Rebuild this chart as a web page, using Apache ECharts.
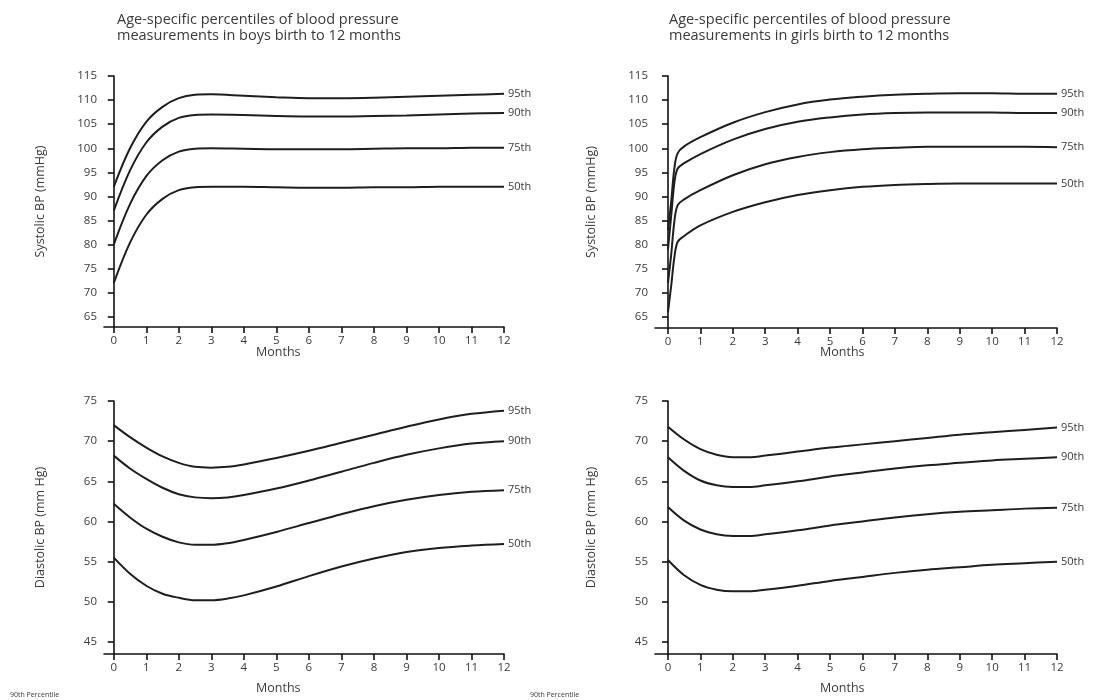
<!DOCTYPE html>
<html>
<head>
<meta charset="utf-8">
<script src="https://cdn.jsdelivr.net/npm/echarts@6/dist/echarts.min.js"></script>
<style>
  html, body { margin: 0; padding: 0; background: #fff; }
  #chart { width: 1099px; height: 700px; }
</style>
</head>
<body>
<div id="chart"></div>
<script>
// percentile names
const percentiles = ["95th", "90th", "75th", "50th"];
const monthTicks = [0, 1, 2, 3, 4, 5, 6, 7, 8, 9, 10, 11, 12];
const sysTicks = [65, 70, 75, 80, 85, 90, 95, 100, 105, 110, 115];
const diaTicks = [45, 50, 55, 60, 65, 70, 75];

// boys systolic
const boysSysMonths = [0, 0.5, 1, 1.5, 2, 2.5, 3, 4, 5, 6, 7, 8, 9, 10, 11, 12];
const boysSys95 = [92, 100, 105.5, 108.6, 110.4, 111.1, 111.2, 110.9, 110.6, 110.4, 110.4, 110.5, 110.7, 110.9, 111.1, 111.3];
const boysSys90 = [87, 95.4, 101.2, 104.5, 106.3, 106.9, 107, 106.9, 106.7, 106.6, 106.6, 106.7, 106.8, 107, 107.2, 107.3];
const boysSys75 = [80, 88.4, 94.2, 97.5, 99.3, 99.9, 100, 99.9, 99.8, 99.8, 99.8, 99.9, 100, 100, 100.1, 100.1];
const boysSys50 = [72, 80.4, 86.2, 89.5, 91.3, 91.9, 92, 92, 91.9, 91.8, 91.8, 91.9, 91.9, 92, 92, 92];

// girls systolic
const girlsSysMonths = [0, 0.1, 0.2, 0.3, 0.5, 1, 2, 3, 4, 5, 6, 7, 8, 9, 10, 11, 12];
const girlsSys95 = [83, 89, 96, 99, 100.4, 102.3, 105.3, 107.5, 109.1, 110.1, 110.7, 111.1, 111.3, 111.4, 111.4, 111.3, 111.3];
const girlsSys90 = [79, 86, 93, 95.8, 96.9, 98.8, 101.8, 104, 105.5, 106.4, 107, 107.3, 107.4, 107.4, 107.4, 107.3, 107.3];
const girlsSys75 = [72, 78, 85, 88.2, 89.4, 91.3, 94.4, 96.7, 98.2, 99.2, 99.8, 100.1, 100.3, 100.3, 100.3, 100.3, 100.2];
const girlsSys50 = [66, 71.5, 77.5, 80.6, 81.8, 84, 86.8, 88.8, 90.3, 91.3, 92, 92.4, 92.6, 92.7, 92.7, 92.7, 92.7];

// boys diastolic
const boysDiaMonths = [0, 0.5, 1, 1.5, 2, 2.5, 3, 3.5, 4, 5, 6, 7, 8, 9, 10, 11, 12];
const boysDia95 = [72, 70.5, 69.2, 68.1, 67.3, 66.8, 66.7, 66.8, 67.1, 67.9, 68.8, 69.8, 70.8, 71.8, 72.7, 73.4, 73.8];
const boysDia90 = [68.2, 66.6, 65.3, 64.2, 63.4, 63, 62.9, 63, 63.3, 64.1, 65.1, 66.2, 67.3, 68.3, 69.1, 69.7, 70];
const boysDia75 = [62.2, 60.5, 59.1, 58.1, 57.4, 57.1, 57.1, 57.3, 57.7, 58.7, 59.8, 60.9, 61.9, 62.7, 63.3, 63.7, 63.9];
const boysDia50 = [55.5, 53.5, 52, 51, 50.5, 50.2, 50.2, 50.4, 50.8, 51.9, 53.2, 54.4, 55.4, 56.2, 56.7, 57, 57.2];

// girls diastolic
const girlsDiaMonths = [0, 0.5, 1, 1.5, 2, 2.5, 3, 4, 5, 6, 7, 8, 9, 10, 11, 12];
const girlsDia95 = [71.8, 70.2, 69, 68.3, 68, 68, 68.2, 68.7, 69.2, 69.6, 70, 70.4, 70.8, 71.1, 71.4, 71.7];
const girlsDia90 = [68, 66.3, 65.1, 64.5, 64.3, 64.3, 64.5, 65, 65.6, 66.1, 66.6, 67, 67.3, 67.6, 67.8, 68];
const girlsDia75 = [61.8, 60.1, 59, 58.4, 58.2, 58.2, 58.4, 58.9, 59.5, 60, 60.5, 60.9, 61.2, 61.4, 61.6, 61.7];
const girlsDia50 = [55.2, 53.3, 52.1, 51.5, 51.3, 51.3, 51.5, 52, 52.6, 53.1, 53.6, 54, 54.3, 54.6, 54.8, 55];

const FONT = "'Open Sans', sans-serif";
const TXT = '#3a3a3a';

const zip = (xs, ys) => xs.map((x, i) => [x, ys[i]]);

const grids = [
  { left: 104, top: 76, width: 400, height: 251 },
  { left: 655, top: 76, width: 402, height: 252 },
  { left: 104, top: 401, width: 400, height: 253 },
  { left: 655, top: 401, width: 402, height: 253 }
];

function xAxisFor(i, xmin) {
  return {
    type: 'value', gridIndex: i, min: xmin, max: 12,
    axisLine: { show: true, lineStyle: { color: '#111', width: 1.6 } },
    axisTick: { show: true, length: 6, customValues: monthTicks, lineStyle: { color: '#111', width: 1.6 } },
    axisLabel: { customValues: monthTicks, margin: 8, fontSize: 11.5, color: TXT, fontFamily: FONT },
    splitLine: { show: false }
  };
}

function yAxisFor(i, ymin, ymax, ticks, name) {
  return {
    type: 'value', gridIndex: i, min: ymin, max: ymax,
    name: name, nameLocation: 'middle', nameGap: 57, nameRotate: 90,
    nameTextStyle: { fontSize: 12.5, color: TXT, fontFamily: FONT },
    axisLine: { show: true, lineStyle: { color: '#111', width: 1.6 } },
    axisTick: { show: true, length: 6, customValues: ticks, lineStyle: { color: '#111', width: 1.6 } },
    axisLabel: { customValues: ticks, margin: 7, fontSize: 11.5, color: TXT, fontFamily: FONT },
    splitLine: { show: false }
  };
}

function lineSeries(i, name, months, values) {
  return {
    type: 'line', name: name, xAxisIndex: i, yAxisIndex: i,
    data: zip(months, values),
    smooth: 0.35, showSymbol: false, symbol: 'none',
    lineStyle: { color: '#1e1e1e', width: 2 },
    endLabel: { show: true, formatter: '{a}', distance: 4, fontSize: 11, color: TXT, fontFamily: FONT },
    clip: false
  };
}

const panels = [
  { months: boysSysMonths, sets: [boysSys95, boysSys90, boysSys75, boysSys50] },
  { months: girlsSysMonths, sets: [girlsSys95, girlsSys90, girlsSys75, girlsSys50] },
  { months: boysDiaMonths, sets: [boysDia95, boysDia90, boysDia75, boysDia50] },
  { months: girlsDiaMonths, sets: [girlsDia95, girlsDia90, girlsDia75, girlsDia50] }
];

const series = [];
panels.forEach((p, i) => {
  p.sets.forEach((vals, k) => series.push(lineSeries(i, percentiles[k], p.months, vals)));
});

function txt(x, y, text, size) {
  return {
    type: 'text', left: x, top: y,
    style: { text: text, fontSize: size, fill: TXT, fontFamily: FONT }
  };
}

const titleStyle = { fontSize: 14.5, fontWeight: 'normal', color: TXT, fontFamily: FONT, lineHeight: 16 };

const option = {
  animation: false,
  backgroundColor: '#fff',
  title: [
    { text: 'Age-specific percentiles of blood pressure\nmeasurements in boys birth to 12 months',
      left: 112, top: 7, textStyle: titleStyle },
    { text: 'Age-specific percentiles of blood pressure\nmeasurements in girls birth to 12 months',
      left: 664, top: 7, textStyle: titleStyle }
  ],
  grid: grids,
  xAxis: [xAxisFor(0, -0.3), xAxisFor(1, -0.4), xAxisFor(2, -0.3), xAxisFor(3, -0.4)],
  yAxis: [
    yAxisFor(0, 62.9, 115, sysTicks, 'Systolic BP (mmHg)'),
    yAxisFor(1, 62.7, 115, sysTicks, 'Systolic BP (mmHg)'),
    yAxisFor(2, 43.5, 75, diaTicks, 'Diastolic BP (mm Hg)'),
    yAxisFor(3, 43.5, 75, diaTicks, 'Diastolic BP (mm Hg)')
  ],
  graphic: [
    txt(256, 346, 'Months', 12.5),
    txt(820, 346, 'Months', 12.5),
    txt(256, 682, 'Months', 12.5),
    txt(820, 682, 'Months', 12.5),
    txt(10, 691, '90th Percentile', 7),
    txt(530, 691, '90th Percentile', 7)
  ],
  series: series
};

echarts.init(document.getElementById('chart')).setOption(option);
</script>
</body>
</html>
